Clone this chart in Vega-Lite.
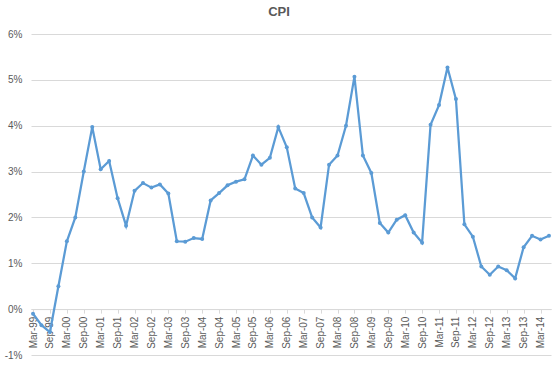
{
  "$schema": "https://vega.github.io/schema/vega-lite/v6.json",
  "width": 520,
  "height": 321,
  "autosize": {"type": "none"},
  "padding": {"left": 31, "top": 34, "right": 9, "bottom": 11},
  "background": "white",
  "title": {"text": "CPI", "fontSize": 13, "fontWeight": "bold", "color": "#595959", "font": "Liberation Sans", "dx": -12, "offset": 10},
  "config": {"view": {"stroke": null}},
  "data": {"values": [
    {"q": "Mar-99", "cpi": -0.1}, {"q": "Jun-99", "cpi": -0.35}, {"q": "Sep-99", "cpi": -0.5}, {"q": "Dec-99", "cpi": 0.5},
    {"q": "Mar-00", "cpi": 1.48}, {"q": "Jun-00", "cpi": 2.0}, {"q": "Sep-00", "cpi": 3.0}, {"q": "Dec-00", "cpi": 3.97},
    {"q": "Mar-01", "cpi": 3.05}, {"q": "Jun-01", "cpi": 3.23}, {"q": "Sep-01", "cpi": 2.42}, {"q": "Dec-01", "cpi": 1.82},
    {"q": "Mar-02", "cpi": 2.58}, {"q": "Jun-02", "cpi": 2.75}, {"q": "Sep-02", "cpi": 2.65}, {"q": "Dec-02", "cpi": 2.72},
    {"q": "Mar-03", "cpi": 2.52}, {"q": "Jun-03", "cpi": 1.48}, {"q": "Sep-03", "cpi": 1.47}, {"q": "Dec-03", "cpi": 1.55},
    {"q": "Mar-04", "cpi": 1.53}, {"q": "Jun-04", "cpi": 2.37}, {"q": "Sep-04", "cpi": 2.53}, {"q": "Dec-04", "cpi": 2.7},
    {"q": "Mar-05", "cpi": 2.78}, {"q": "Jun-05", "cpi": 2.83}, {"q": "Sep-05", "cpi": 3.35}, {"q": "Dec-05", "cpi": 3.15},
    {"q": "Mar-06", "cpi": 3.3}, {"q": "Jun-06", "cpi": 3.97}, {"q": "Sep-06", "cpi": 3.53}, {"q": "Dec-06", "cpi": 2.63},
    {"q": "Mar-07", "cpi": 2.53}, {"q": "Jun-07", "cpi": 2.0}, {"q": "Sep-07", "cpi": 1.78}, {"q": "Dec-07", "cpi": 3.15},
    {"q": "Mar-08", "cpi": 3.35}, {"q": "Jun-08", "cpi": 4.0}, {"q": "Sep-08", "cpi": 5.07}, {"q": "Dec-08", "cpi": 3.35},
    {"q": "Mar-09", "cpi": 2.97}, {"q": "Jun-09", "cpi": 1.88}, {"q": "Sep-09", "cpi": 1.67}, {"q": "Dec-09", "cpi": 1.95},
    {"q": "Mar-10", "cpi": 2.05}, {"q": "Jun-10", "cpi": 1.67}, {"q": "Sep-10", "cpi": 1.45}, {"q": "Dec-10", "cpi": 4.02},
    {"q": "Mar-11", "cpi": 4.45}, {"q": "Jun-11", "cpi": 5.27}, {"q": "Sep-11", "cpi": 4.58}, {"q": "Dec-11", "cpi": 1.85},
    {"q": "Mar-12", "cpi": 1.58}, {"q": "Jun-12", "cpi": 0.93}, {"q": "Sep-12", "cpi": 0.75}, {"q": "Dec-12", "cpi": 0.93},
    {"q": "Mar-13", "cpi": 0.85}, {"q": "Jun-13", "cpi": 0.67}, {"q": "Sep-13", "cpi": 1.35}, {"q": "Dec-13", "cpi": 1.6},
    {"q": "Mar-14", "cpi": 1.52}, {"q": "Jun-14", "cpi": 1.6}
  ]},
  "mark": {"type": "line", "color": "#5B9BD5", "strokeWidth": 2.25, "point": {"filled": true, "size": 16, "color": "#5B9BD5"}},
  "encoding": {
    "x": {
      "field": "q", "type": "ordinal", "sort": null,
      "scale": {"type": "point", "padding": 0.24},
      "axis": {
        "title": null,
        "values": ["Mar-99","Sep-99","Mar-00","Sep-00","Mar-01","Sep-01","Mar-02","Sep-02","Mar-03","Sep-03","Mar-04","Sep-04","Mar-05","Sep-05","Mar-06","Sep-06","Mar-07","Sep-07","Mar-08","Sep-08","Mar-09","Sep-09","Mar-10","Sep-10","Mar-11","Sep-11","Mar-12","Sep-12","Mar-13","Sep-13","Mar-14"],
        "offset": -45.9,
        "labelAngle": -90,
        "labelFontSize": 10,
        "labelFont": "Liberation Sans",
        "labelColor": "#595959",
        "labelPadding": 3,
        "domainColor": "#d9d9d9",
        "tickColor": "#d9d9d9",
        "tickSize": 4,
        "grid": false
      }
    },
    "y": {
      "field": "cpi", "type": "quantitative",
      "scale": {"domain": [-1, 6], "nice": false, "zero": false},
      "axis": {
        "title": null,
        "values": [-1, 0, 1, 2, 3, 4, 5, 6],
        "labelExpr": "datum.value + '%'",
        "labelFontSize": 10,
        "labelFont": "Liberation Sans",
        "labelColor": "#595959",
        "labelPadding": 9,
        "ticks": false,
        "domain": false,
        "gridColor": "#d9d9d9",
        "gridWidth": 1
      }
    }
  }
}
